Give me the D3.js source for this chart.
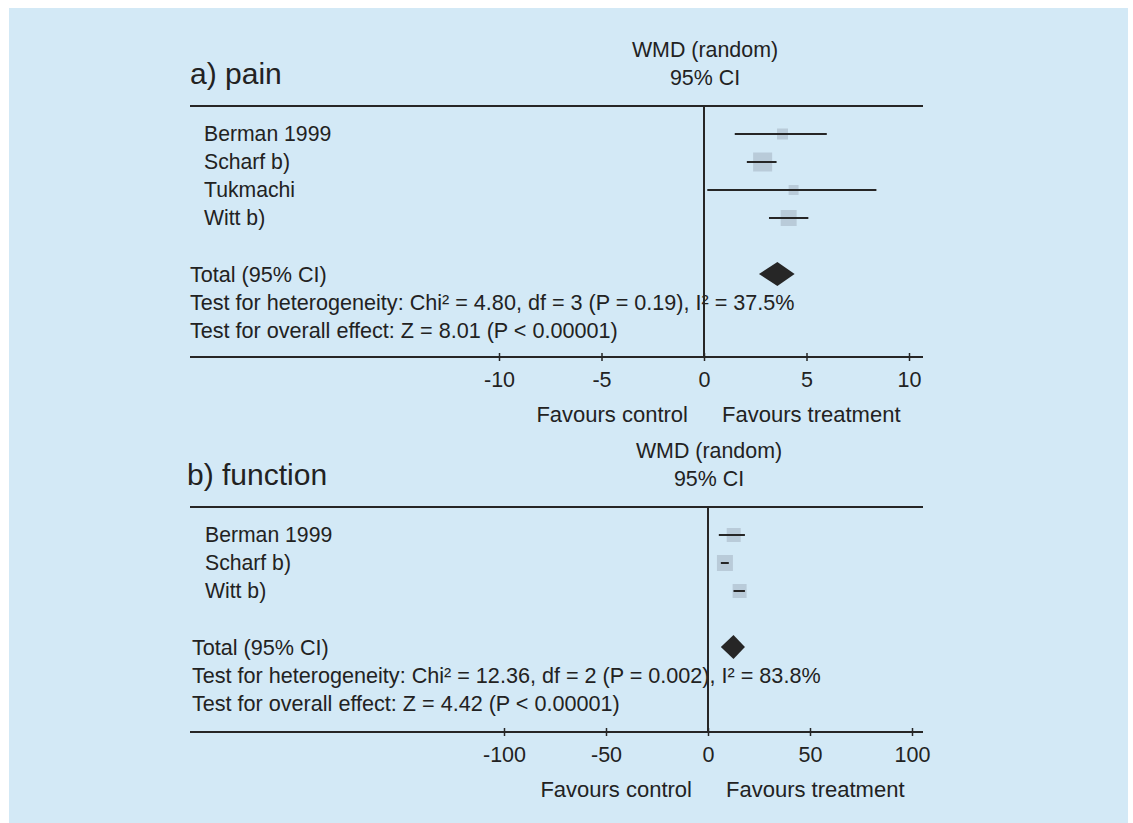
<!DOCTYPE html>
<html>
<head>
<meta charset="utf-8">
<script src="https://cdn.jsdelivr.net/npm/d3@7"></script>
<style>
  html, body { margin: 0; padding: 0; background: #ffffff; }
  svg text { font-family: "Liberation Sans", Arial, Helvetica, sans-serif; fill: #222; }
</style>
</head>
<body>
<svg id="chart" width="1133" height="823"></svg>
<script>
// ---------- DATA ----------
// a) pain
const painStudies = ["Berman 1999", "Scharf b)", "Tukmachi", "Witt b)"];
const painMean    = [3.83, 2.86, 4.37, 4.13];
const painLower   = [1.50, 2.09, 0.16, 3.17];
const painUpper   = [5.99, 3.54, 8.41, 5.09];
const painWeight  = [14.4, 43.1, 11.9, 30.5];
const painTotal   = [3.58, 2.68, 4.42];          // mean, lower, upper
const painTicks   = [-10, -5, 0, 5, 10];
const painDomain  = [-10, 10];
const painStats   = [
  "Total (95% CI)",
  "Test for heterogeneity: Chi\u00B2 = 4.80, df = 3 (P = 0.19), I\u00B2 = 37.5%",
  "Test for overall effect: Z = 8.01 (P < 0.00001)"
];

// b) function
const funcStudies = ["Berman 1999", "Scharf b)", "Witt b)"];
const funcMean    = [12.6, 8.3, 15.5];
const funcLower   = [5.3, 6.3, 12.5];
const funcUpper   = [18.1, 10.2, 18.1];
const funcWeight  = [30.2, 39.5, 30.2];
const funcTotal   = [12.5, 6.3, 18.1];
const funcTicks   = [-100, -50, 0, 50, 100];
const funcDomain  = [-100, 100];
const funcStats   = [
  "Total (95% CI)",
  "Test for heterogeneity: Chi\u00B2 = 12.36, df = 2 (P = 0.002), I\u00B2 = 83.8%",
  "Test for overall effect: Z = 4.42 (P < 0.00001)"
];

const headerLines = ["WMD (random)", "95% CI"];
const favourLabels = ["Favours control", "Favours treatment"];

// ---------- DRAW ----------
const svg = d3.select("#chart");
svg.append("rect").attr("x", 9).attr("y", 8).attr("width", 1119).attr("height", 815)
   .attr("fill", "#d3e9f6");

const INK = "#262626";
const FS = 21.6;

function panel(opt) {
  const g = svg.append("g");
  const x = d3.scaleLinear().domain(opt.domain).range(opt.range);
  const top = opt.top;                 // y of top rule
  const rowY = i => top + 28 + i * 28;
  const n = opt.studies.length;
  const totalY = rowY(n - 1) + 56;
  const axisY = totalY + opt.axisGap;
  const sz = d3.scaleSqrt().domain([0, d3.max(opt.weight)]).range([0, opt.maxSq]);

  // title
  g.append("text").attr("x", opt.titleX).attr("y", top - 22)
    .attr("font-size", 30).text(opt.title);
  // header
  g.selectAll("text.hdr").data(headerLines).join("text").attr("class", "hdr")
    .attr("x", x(0) + 1).attr("y", (d, i) => top - 49 + i * 27.5)
    .attr("text-anchor", "middle").attr("font-size", 21.4).text(d => d);

  // study labels
  g.selectAll("text.lab").data(opt.studies).join("text").attr("class", "lab")
    .attr("x", opt.labelX).attr("y", (d, i) => rowY(i) + 7)
    .attr("font-size", 21.2).text(d => d);

  // stats texts
  g.selectAll("text.st").data(opt.stats).join("text").attr("class", "st")
    .attr("x", opt.statX).attr("y", (d, i) => totalY + 7.5 + i * 28)
    .attr("font-size", FS).text(d => d);

  // squares
  g.selectAll("rect.sq").data(opt.mean).join("rect").attr("class", "sq")
    .attr("x", (d, i) => x(d) - sz(opt.weight[i]) / 2)
    .attr("y", (d, i) => rowY(i) - sz(opt.weight[i]) / 2)
    .attr("width", (d, i) => sz(opt.weight[i]))
    .attr("height", (d, i) => sz(opt.weight[i]))
    .attr("fill", "#b9cbd9");

  // CI lines
  g.selectAll("line.ci").data(opt.lower).join("line").attr("class", "ci")
    .attr("x1", d => x(d)).attr("x2", (d, i) => x(opt.upper[i]))
    .attr("y1", (d, i) => rowY(i)).attr("y2", (d, i) => rowY(i))
    .attr("stroke", INK).attr("stroke-width", 2);

  // diamond
  const [m, lo, hi] = opt.total;
  g.append("path")
    .attr("d", `M${x(lo)},${totalY} L${x(m)},${totalY - 12} L${x(hi)},${totalY} L${x(m)},${totalY + 12} Z`)
    .attr("fill", INK);

  // top rule
  g.append("line").attr("x1", 190).attr("x2", 923).attr("y1", top).attr("y2", top)
    .attr("stroke", INK).attr("stroke-width", 2);
  // zero line
  g.append("line").attr("x1", x(0)).attr("x2", x(0)).attr("y1", top).attr("y2", axisY)
    .attr("stroke", INK).attr("stroke-width", 2);
  // axis rule
  g.append("line").attr("x1", 190).attr("x2", 923).attr("y1", axisY).attr("y2", axisY)
    .attr("stroke", INK).attr("stroke-width", 2);

  // axis ticks + labels
  const ax = g.append("g").attr("transform", `translate(0,${axisY})`)
    .call(d3.axisBottom(x).tickValues(opt.ticks).tickSize(4).tickPadding(11)
      .tickFormat(d => d < 0 ? "-" + Math.abs(d) : String(d)));
  ax.select(".domain").remove();
  ax.selectAll(".tick line").attr("y1", -4).attr("y2", 4).attr("stroke", INK).attr("stroke-width", 1.5);
  ax.selectAll(".tick text").attr("font-size", 21.5).attr("fill", "#222")
    .attr("font-family", "Liberation Sans, Arial, sans-serif");

  // favours
  g.append("text").attr("x", x(0) - 16).attr("y", axisY + 64.5).attr("text-anchor", "end")
    .attr("font-size", 22).text(favourLabels[0]);
  g.append("text").attr("x", x(0) + 18).attr("y", axisY + 64.5)
    .attr("font-size", 22).text(favourLabels[1]);
}

panel({
  title: "a) pain", titleX: 190, top: 106, labelX: 204, statX: 190,
  studies: painStudies, mean: painMean, lower: painLower, upper: painUpper,
  weight: painWeight, total: painTotal, ticks: painTicks, domain: painDomain,
  range: [499, 909], stats: painStats, maxSq: 19, axisGap: 83
});
panel({
  title: "b) function", titleX: 187, top: 507, labelX: 205, statX: 192,
  studies: funcStudies, mean: funcMean, lower: funcLower, upper: funcUpper,
  weight: funcWeight, total: funcTotal, ticks: funcTicks, domain: funcDomain,
  range: [504, 912], stats: funcStats, maxSq: 16, axisGap: 85
});
</script>
</body>
</html>
